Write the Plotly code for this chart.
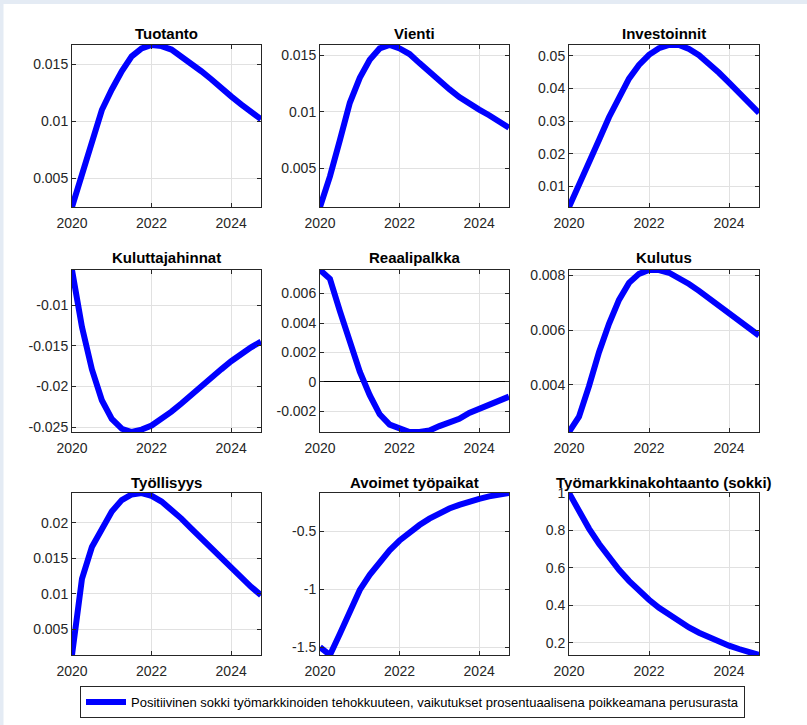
import plotly.graph_objects as go

# ---------------- data ----------------
quarters = [2020.0, 2020.25, 2020.5, 2020.75, 2021.0, 2021.25, 2021.5, 2021.75,
            2022.0, 2022.25, 2022.5, 2022.75, 2023.0, 2023.25, 2023.5, 2023.75,
            2024.0, 2024.25, 2024.5, 2024.75]

titles = ["Tuotanto", "Vienti", "Investoinnit",
          "Kuluttajahinnat", "Reaalipalkka", "Kulutus",
          "Työllisyys", "Avoimet työpaikat", "Työmarkkinakohtaanto (sokki)"]

tuotanto = [0.0025, 0.0054, 0.0084, 0.0110, 0.0128, 0.0144, 0.0157, 0.0164,
            0.0167, 0.0166, 0.0163, 0.0157, 0.0151, 0.0144, 0.0137, 0.0129,
            0.0122, 0.0115, 0.0108, 0.0102]
vienti = [0.0016, 0.0043, 0.0075, 0.0108, 0.0130, 0.0146, 0.0156, 0.0159,
          0.0156, 0.0151, 0.0143, 0.0135, 0.0127, 0.0120, 0.0113, 0.0107,
          0.0102, 0.0097, 0.0092, 0.0086]
investoinnit = [0.0037, 0.0102, 0.0169, 0.0242, 0.0312, 0.0376, 0.0430, 0.0472,
                0.0503, 0.0523, 0.0533, 0.0533, 0.0521, 0.0502, 0.0477, 0.0448,
                0.0418, 0.0387, 0.0356, 0.0325]
kuluttajahinnat = [-0.0057, -0.0127, -0.0179, -0.0217, -0.0240, -0.0252, -0.0256, -0.0253,
                   -0.0248, -0.0240, -0.0231, -0.0221, -0.0210, -0.0199, -0.0189, -0.0179,
                   -0.0169, -0.0160, -0.0152, -0.0145]
reaalipalkka = [0.0076, 0.0070, 0.0048, 0.0026, 0.0007, -0.0009, -0.0022, -0.0029,
                -0.0032, -0.0034, -0.0034, -0.0033, -0.0030, -0.0028, -0.0025, -0.0021,
                -0.0018, -0.0015, -0.0013, -0.0010]
kulutus = [0.00228, 0.00284, 0.00395, 0.00519, 0.00623, 0.00710, 0.00772, 0.00805,
           0.00819, 0.00819, 0.00809, 0.00790, 0.00768, 0.00743, 0.00716, 0.00689,
           0.00660, 0.00633, 0.00607, 0.00580]
tyollisyys = [0.0014, 0.0121, 0.0166, 0.0192, 0.0216, 0.0232, 0.0240, 0.0242,
              0.0238, 0.0230, 0.0219, 0.0206, 0.0192, 0.0178, 0.0163, 0.0149,
              0.0135, 0.0122, 0.0110, 0.0098]
avoimet = [-1.500, -1.567, -1.384, -1.181, -1.007, -0.877, -0.761, -0.665,
           -0.581, -0.509, -0.448, -0.393, -0.346, -0.306, -0.274, -0.245,
           -0.222, -0.201, -0.187, -0.172]
kohtaanto = [1.000, 0.900, 0.810, 0.729, 0.656, 0.590, 0.531, 0.478,
             0.430, 0.387, 0.349, 0.314, 0.282, 0.254, 0.229, 0.206,
             0.185, 0.167, 0.150, 0.135]

series = [tuotanto, vienti, investoinnit, kuluttajahinnat, reaalipalkka,
          kulutus, tyollisyys, avoimet, kohtaanto]

x_tickvals = [2020, 2022, 2024]
x_ticktext = ["2020", "2022", "2024"]

y_tickvals = [
    [0.005, 0.01, 0.015],
    [0.005, 0.01, 0.015],
    [0.01, 0.02, 0.03, 0.04, 0.05],
    [-0.025, -0.02, -0.015, -0.01],
    [-0.002, 0, 0.002, 0.004, 0.006],
    [0.004, 0.006, 0.008],
    [0.005, 0.01, 0.015, 0.02],
    [-1.5, -1, -0.5],
    [0.2, 0.4, 0.6, 0.8, 1],
]
y_ticktext = [
    ["0.005", "0.01", "0.015"],
    ["0.005", "0.01", "0.015"],
    ["0.01", "0.02", "0.03", "0.04", "0.05"],
    ["-0.025", "-0.02", "-0.015", "-0.01"],
    ["-0.002", "0", "0.002", "0.004", "0.006"],
    ["0.004", "0.006", "0.008"],
    ["0.005", "0.01", "0.015", "0.02"],
    ["-1.5", "-1", "-0.5"],
    ["0.2", "0.4", "0.6", "0.8", "1"],
]

legend_label = ("Positiivinen sokki työmarkkinoiden tehokkuuteen, "
                "vaikutukset prosentuaalisena poikkeamana perusurasta")

# ---------------- layout geometry (pixels) ----------------
W, H = 807, 725
col_px = [(72, 261), (320, 509), (569, 759)]
row_px = [(45, 207), (270, 432), (493, 655)]
title_center_px = [33, 258, 482]

FONT = "Arial, Liberation Sans, Helvetica, sans-serif"
AXCOL = "#262626"
GRIDCOL = "#e1e1e1"

fig = go.Figure()
layout = dict(
    width=W, height=H,
    margin=dict(l=0, r=0, t=0, b=0, autoexpand=False),
    paper_bgcolor="white", plot_bgcolor="white",
    font=dict(family=FONT, size=14, color=AXCOL),
    showlegend=True,
    legend=dict(
        x=80 / W, y=1 - 686 / H, xanchor="left", yanchor="top",
        bordercolor=AXCOL, borderwidth=1, bgcolor="white",
        font=dict(family=FONT, size=13, color="black"),
        itemwidth=40, tracegroupgap=0,
    ),
)

annotations = []
shapes = [
    dict(type="rect", xref="paper", yref="paper", x0=0, x1=1,
         y0=1 - 4 / H, y1=1, fillcolor="#e4ebf4", line=dict(width=0), layer="above"),
    dict(type="rect", xref="paper", yref="paper", x0=0, x1=3.5 / W,
         y0=0, y1=1, fillcolor="#e4ebf4", line=dict(width=0), layer="above"),
]

for i, (title, vals) in enumerate(zip(titles, series)):
    r, c = divmod(i, 3)
    n = i + 1
    xa = "x" if n == 1 else f"x{n}"
    ya = "y" if n == 1 else f"y{n}"
    fig.add_trace(go.Scatter(
        x=quarters, y=vals, mode="lines",
        line=dict(color="#0000ff", width=6),
        xaxis=xa, yaxis=ya,
        name=legend_label, showlegend=(i == 0), hoverinfo="skip",
    ))
    x0, x1 = col_px[c]
    y0, y1 = row_px[r]
    xdom = [x0 / W, x1 / W]
    ydom = [1 - y1 / H, 1 - y0 / H]
    xkey = "xaxis" if n == 1 else f"xaxis{n}"
    ykey = "yaxis" if n == 1 else f"yaxis{n}"
    layout[xkey] = dict(
        domain=xdom, anchor=ya, range=[quarters[0], quarters[-1]],
        tickvals=x_tickvals, ticktext=x_ticktext,
        ticks="inside", ticklen=4, tickcolor=AXCOL,
        showline=True, linecolor=AXCOL, linewidth=1, mirror="allticks",
        showgrid=True, gridcolor=GRIDCOL, gridwidth=1, zeroline=False,
        tickfont=dict(family=FONT, size=14, color=AXCOL), automargin=False,
        ticklabelstandoff=3, fixedrange=True,
    )
    layout[ykey] = dict(
        domain=ydom, anchor=xa, range=[min(vals), max(vals)],
        tickvals=y_tickvals[i], ticktext=y_ticktext[i],
        ticks="inside", ticklen=4, tickcolor=AXCOL,
        showline=True, linecolor=AXCOL, linewidth=1, mirror="allticks",
        showgrid=True, gridcolor=GRIDCOL, gridwidth=1,
        zeroline=(title == "Reaalipalkka"), zerolinecolor="#000000", zerolinewidth=1,
        tickfont=dict(family=FONT, size=14, color=AXCOL), automargin=False,
        fixedrange=True,
    )
    annotations.append(dict(
        text=f"<b>{title}</b>", xref="paper", yref="paper",
        x=(x0 + x1) / 2 / W, y=1 - title_center_px[r] / H,
        xanchor="center", yanchor="middle", showarrow=False,
        font=dict(family=FONT, size=15, color="black"),
    ))

layout["annotations"] = annotations
layout["shapes"] = shapes
fig.update_layout(**layout)
fig.write_html("out.html",
               config={"displayModeBar": False},
               post_script="document.body.style.margin='0px';document.body.style.overflow='hidden';")
